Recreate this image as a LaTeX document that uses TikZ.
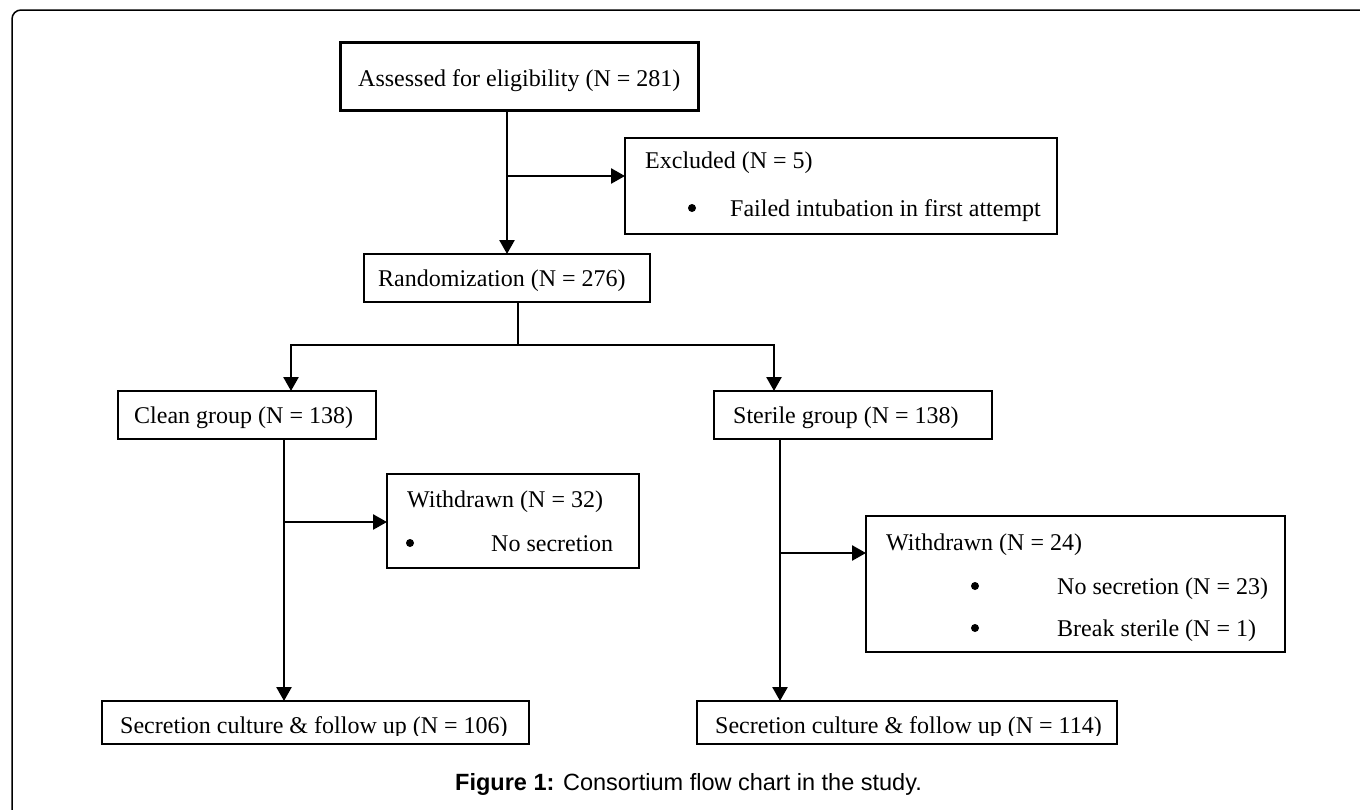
\documentclass[tikz,border=0pt]{standalone}
\usepackage{fontspec}
\setmainfont{Liberation Serif}
\newfontfamily\capfont{Liberation Sans}
\usetikzlibrary{arrows.meta}
\begin{document}
\begin{tikzpicture}[x=1pt,y=-1pt,
  box/.style={draw, line width=2.2pt, rectangle, inner sep=0pt, outer sep=0pt},
  lbl/.style={font=\fontsize{24}{28}\selectfont, inner sep=0pt, anchor=base west},
  bul/.style={circle, fill=black, inner sep=0pt, minimum size=8pt},
  ln/.style={line width=2.6pt},
  arr/.style={line width=2.6pt, -{Triangle[length=14pt,width=15pt]}}]
\useasboundingbox (0,0) rectangle (1360,809);
\fill[white] (0,0) rectangle (1360,809);
% outer frame
\draw[line width=1.5pt, rounded corners=9pt] (12,812) -- (12,10) -- (1363,10);

% boxes
\node[box, line width=3pt, minimum width=358pt, minimum height=68pt] (assess) at (519,76) {};
\node[box, minimum width=432pt, minimum height=96pt] (excl) at (841,186) {};
\node[box, minimum width=286pt, minimum height=48pt] (rand) at (507,278) {};
\node[box, minimum width=258pt, minimum height=48pt] (clean) at (247,415) {};
\node[box, minimum width=278pt, minimum height=48pt] (sterile) at (853,415) {};
\node[box, minimum width=252pt, minimum height=94pt] (wd1) at (513,521) {};
\node[box, minimum width=419pt, minimum height=136pt] (wd2) at (1075.5,584) {};
\node[box, minimum width=427pt, minimum height=43pt] (outL) at (315.5,722.5) {};
\node[box, minimum width=420pt, minimum height=43pt] (outR) at (907,722.5) {};

% texts
\node[lbl] (tassess) at (358,86) {Assessed for eligibility (N = 281)};
\node[lbl] (texcl) at (645,168) {Excluded (N = 5)};
\node[bul] (bex) at (692,208) {};
\node[lbl] (texcl1) at (730,216) {Failed intubation in first attempt};
\node[lbl] (trand) at (378,286) {Randomization (N = 276)};
\node[lbl] (tclean) at (134,423) {Clean group (N = 138)};
\node[lbl] (tsterile) at (733,423) {Sterile group (N = 138)};
\node[lbl] (twd1) at (407,507) {Withdrawn (N = 32)};
\node[bul] (bw1) at (410,543) {};
\node[lbl] (twd1a) at (491,551) {No secretion};
\node[lbl] (twd2) at (886,550) {Withdrawn (N = 24)};
\node[bul] (bw2a) at (975,586) {};
\node[lbl] (twd2a) at (1057,594) {No secretion (N = 23)};
\node[bul] (bw2b) at (975,628) {};
\node[lbl] (twd2b) at (1057,636) {Break sterile (N = 1)};
\begin{scope}
\clip (102,701) rectangle (529,735);
\node[lbl] (toutL) at (120,733) {Secretion culture \& follow up (N = 106)};
\end{scope}
\begin{scope}
\clip (697,701) rectangle (1117,735);
\node[lbl] (toutR) at (715,733) {Secretion culture \& follow up (N = 114)};
\end{scope}
\node[inner sep=0pt, anchor=base west, font=\capfont\fontsize{23.5}{28}\selectfont] (cap) at (455,790) {\textbf{Figure 1:} Consortium flow chart in the study.};

% connectors
\coordinate (ea) at (507,176);
\draw[arr] (assess.south -| rand.north) -- (rand.north);
\draw[arr] (ea) -- (ea -| excl.west);

\coordinate (sp) at (518,345);
\coordinate (spl) at (291,345);
\coordinate (spr) at (774,345);
\draw[ln] (rand.south -| sp) -- (sp);
\draw[ln, line cap=rect] (spl) -- (spr);
\draw[arr] (spl) -- (spl |- clean.north);
\draw[arr] (spr) -- (spr |- sterile.north);

\coordinate (cb) at (284,522);
\draw[arr] (clean.south -| cb) -- (outL.north -| cb);
\draw[arr] (cb) -- (cb -| wd1.west);

\coordinate (sb) at (780,553);
\draw[arr] (sterile.south -| sb) -- (outR.north -| sb);
\draw[arr] (sb) -- (sb -| wd2.west);
\end{tikzpicture}
\end{document}
